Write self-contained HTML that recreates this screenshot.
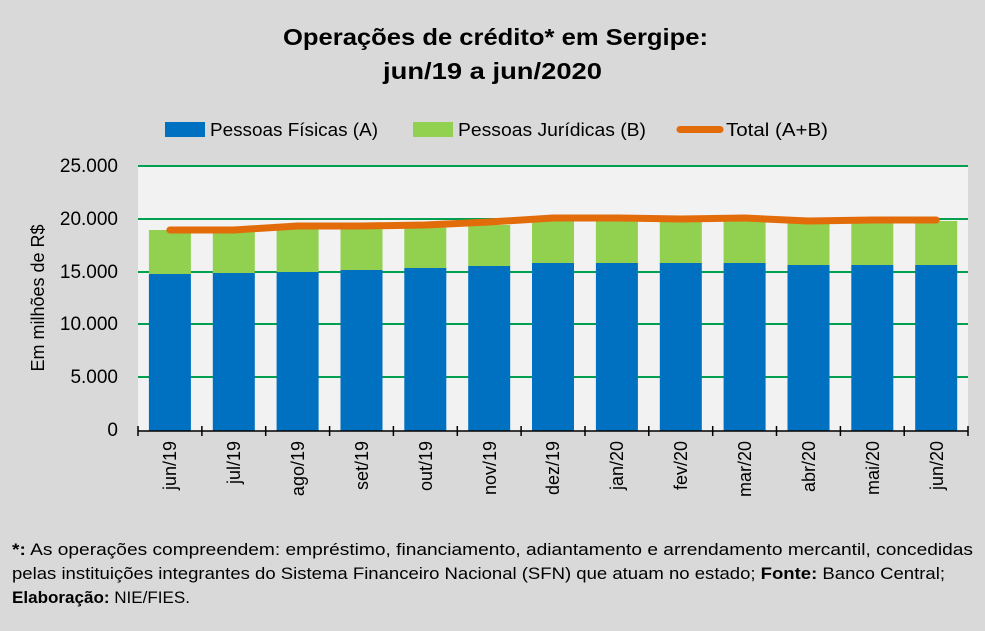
<!DOCTYPE html><html><head><style>body{margin:0;background:#d9d9d9}svg{display:block;font-family:"Liberation Sans",sans-serif}</style></head><body>
<svg width="985" height="631" xmlns="http://www.w3.org/2000/svg">
<rect width="985" height="631" fill="#d9d9d9"/>
<text x="283" y="45" textLength="425" lengthAdjust="spacingAndGlyphs" font-size="23" font-weight="bold">Operações de crédito* em Sergipe:</text>
<text x="383" y="79" textLength="219" lengthAdjust="spacingAndGlyphs" font-size="23" font-weight="bold">jun/19 a jun/2020</text>
<rect x="165" y="122" width="40" height="15" fill="#0070c0"/><text x="210" y="136" font-size="18" textLength="168" lengthAdjust="spacingAndGlyphs">Pessoas Físicas (A)</text>
<rect x="413" y="122" width="40" height="15" fill="#92d050"/><text x="458" y="136" font-size="18" textLength="188" lengthAdjust="spacingAndGlyphs">Pessoas Jurídicas (B)</text>
<line x1="680" y1="129.5" x2="720" y2="129.5" stroke="#e36c0a" stroke-width="7" stroke-linecap="round"/><text x="726" y="136" font-size="18" textLength="102" lengthAdjust="spacingAndGlyphs">Total (A+B)</text>
<rect x="138" y="166" width="830" height="265" fill="#f2f2f2"/>
<g stroke="#00a050" stroke-width="2">
<line x1="138" y1="166" x2="968" y2="166"/><line x1="138" y1="219" x2="968" y2="219"/><line x1="138" y1="272" x2="968" y2="272"/><line x1="138" y1="324" x2="968" y2="324"/><line x1="138" y1="377" x2="968" y2="377"/></g>
<g font-size="19" text-anchor="end"><text x="118" y="172">25.000</text><text x="118" y="225">20.000</text><text x="118" y="278">15.000</text><text x="118" y="330">10.000</text><text x="118" y="383">5.000</text><text x="118" y="436">0</text></g>
<text transform="translate(44,298) rotate(-90)" text-anchor="middle" font-size="18">Em milhões de R$</text>
<g fill="#92d050">
<rect x="148.9" y="230" width="42" height="44"/><rect x="212.8" y="230" width="42" height="43"/><rect x="276.6" y="228" width="42" height="44"/><rect x="340.5" y="228" width="42" height="42"/><rect x="404.3" y="227" width="42" height="41"/><rect x="468.2" y="225" width="42" height="41"/><rect x="532" y="220" width="42" height="43"/><rect x="595.9" y="220" width="42" height="43"/><rect x="659.8" y="220" width="42" height="43"/><rect x="723.6" y="220" width="42" height="43"/><rect x="787.5" y="222" width="42" height="43"/><rect x="851.3" y="221" width="42" height="44"/><rect x="915.2" y="221" width="42" height="44"/></g>
<g fill="#0070c0">
<rect x="148.9" y="274" width="42" height="157"/><rect x="212.8" y="273" width="42" height="158"/><rect x="276.6" y="272" width="42" height="159"/><rect x="340.5" y="270" width="42" height="161"/><rect x="404.3" y="268" width="42" height="163"/><rect x="468.2" y="266" width="42" height="165"/><rect x="532" y="263" width="42" height="168"/><rect x="595.9" y="263" width="42" height="168"/><rect x="659.8" y="263" width="42" height="168"/><rect x="723.6" y="263" width="42" height="168"/><rect x="787.5" y="265" width="42" height="166"/><rect x="851.3" y="265" width="42" height="166"/><rect x="915.2" y="265" width="42" height="166"/></g>
<path d="M169.9 230 L233.8 230 L297.6 226 L361.5 226 L425.3 225 L489.2 222 L553 218 L616.9 218 L680.8 219 L744.6 218 L808.5 221 L872.3 220 L936.2 220" fill="none" stroke="#e36c0a" stroke-width="7" stroke-linecap="round" stroke-linejoin="round"/>
<line x1="138" y1="431" x2="968" y2="431" stroke="#000" stroke-width="1.5"/>
<g stroke="#000" stroke-width="1.5">
<line x1="138" y1="426" x2="138" y2="436"/><line x1="201.9" y1="426" x2="201.9" y2="436"/><line x1="265.7" y1="426" x2="265.7" y2="436"/><line x1="329.6" y1="426" x2="329.6" y2="436"/><line x1="393.4" y1="426" x2="393.4" y2="436"/><line x1="457.3" y1="426" x2="457.3" y2="436"/><line x1="521.1" y1="426" x2="521.1" y2="436"/><line x1="585" y1="426" x2="585" y2="436"/><line x1="648.8" y1="426" x2="648.8" y2="436"/><line x1="712.7" y1="426" x2="712.7" y2="436"/><line x1="776.5" y1="426" x2="776.5" y2="436"/><line x1="840.4" y1="426" x2="840.4" y2="436"/><line x1="904.2" y1="426" x2="904.2" y2="436"/><line x1="968" y1="426" x2="968" y2="436"/></g>
<g font-size="18" text-anchor="end">
<text transform="translate(176,441) rotate(-90)">jun/19</text>
<text transform="translate(240,441) rotate(-90)">jul/19</text>
<text transform="translate(304,441) rotate(-90)">ago/19</text>
<text transform="translate(368,441) rotate(-90)">set/19</text>
<text transform="translate(432,441) rotate(-90)">out/19</text>
<text transform="translate(496,441) rotate(-90)">nov/19</text>
<text transform="translate(559,441) rotate(-90)">dez/19</text>
<text transform="translate(623,441) rotate(-90)">jan/20</text>
<text transform="translate(687,441) rotate(-90)">fev/20</text>
<text transform="translate(751,441) rotate(-90)">mar/20</text>
<text transform="translate(815,441) rotate(-90)">abr/20</text>
<text transform="translate(879,441) rotate(-90)">mai/20</text>
<text transform="translate(943,441) rotate(-90)">jun/20</text>
</g>
<g font-size="17"><text x="12" y="555" textLength="961" lengthAdjust="spacingAndGlyphs"><tspan font-weight="bold">*:</tspan> As operações compreendem: empréstimo, financiamento, adiantamento e arrendamento mercantil, concedidas</text>
<text x="12" y="579" textLength="933" lengthAdjust="spacingAndGlyphs">pelas instituições integrantes do Sistema Financeiro Nacional (SFN) que atuam no estado; <tspan font-weight="bold">Fonte:</tspan> Banco Central;</text>
<text x="12" y="603" textLength="178" lengthAdjust="spacingAndGlyphs"><tspan font-weight="bold">Elaboração:</tspan> NIE/FIES.</text></g>
</svg></body></html>
